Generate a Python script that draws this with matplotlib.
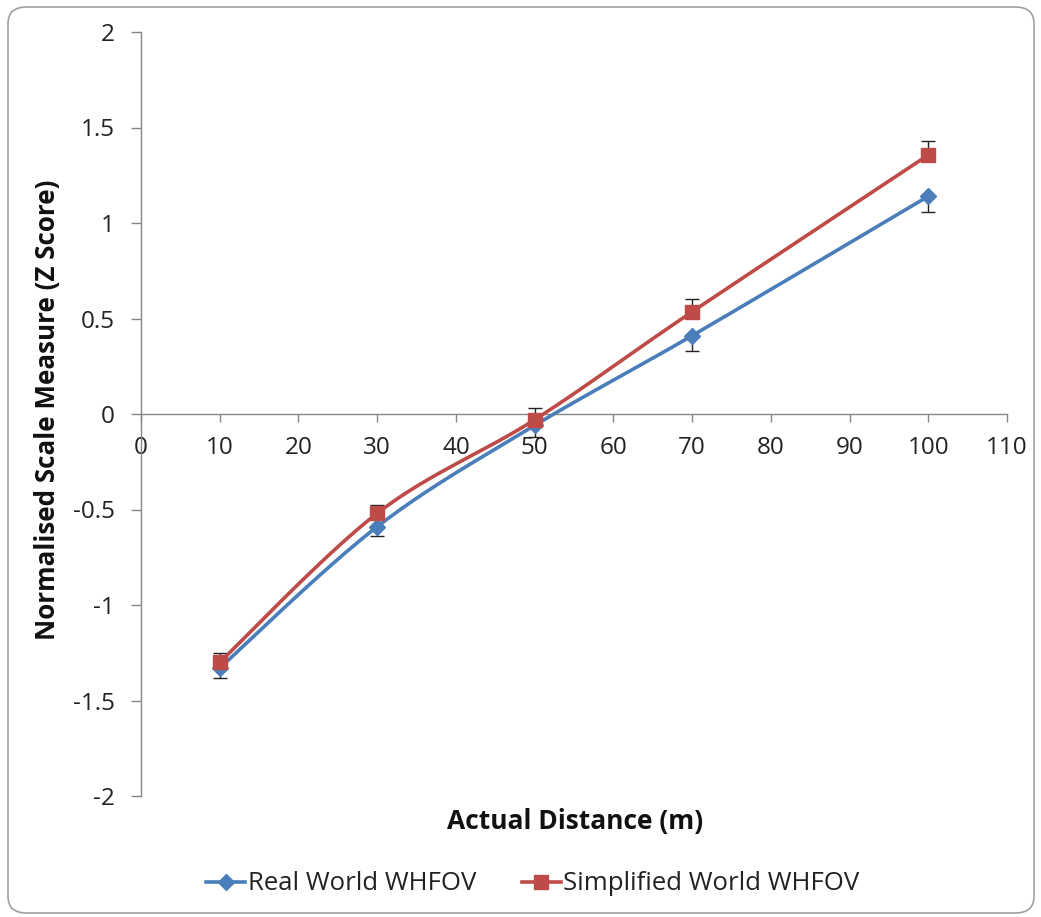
import numpy as np
import matplotlib
matplotlib.use("Agg")
import matplotlib.pyplot as plt
from matplotlib.patches import FancyBboxPatch

# ---- data ----
distance = [10, 30, 50, 70, 100]
real_world = [-1.33, -0.59, -0.06, 0.41, 1.14]
real_err = [0.05, 0.05, 0.06, 0.08, 0.085]
simplified_world = [-1.30, -0.52, -0.03, 0.535, 1.356]
simp_err = [0.05, 0.045, 0.06, 0.065, 0.075]
x_ticks = [0, 10, 20, 30, 40, 50, 60, 70, 80, 90, 100, 110]
y_ticks = [-2, -1.5, -1, -0.5, 0, 0.5, 1, 1.5, 2]
series_names = ["Real World WHFOV", "Simplified World WHFOV"]

BLUE = "#4A7EBB"
RED = "#BE4B48"
FONT = ["Open Sans", "DejaVu Sans"]
plt.rcParams["font.family"] = FONT


def excel_smooth(xs, ys, n=40):
    xs = np.asarray(xs, float)
    ys = np.asarray(ys, float)
    P = np.column_stack([xs, ys])
    out = []
    m = len(P)
    for i in range(m - 1):
        p0 = P[i - 1] if i > 0 else P[i]
        p1 = P[i]
        p2 = P[i + 1]
        p3 = P[i + 2] if i + 2 < m else P[i + 1]
        c1 = p1 + (p2 - p0) / 6.0
        c2 = p2 - (p3 - p1) / 6.0
        t = np.linspace(0, 1, n)[:, None]
        seg = ((1 - t) ** 3) * p1 + 3 * ((1 - t) ** 2) * t * c1 + 3 * (1 - t) * t ** 2 * c2 + t ** 3 * p2
        out.append(seg if i == 0 else seg[1:])
    pts = np.vstack(out)
    return pts[:, 0], pts[:, 1]


W, H = 1041, 917
fig = plt.figure(figsize=(W / 100, H / 100), dpi=100)

# rounded chart border
border = FancyBboxPatch((8 / W, 4 / H), (1026 / W), (906 / H),
                        boxstyle="round,pad=0,rounding_size=0.018",
                        transform=fig.transFigure, facecolor="none",
                        edgecolor="#A0A0A0", linewidth=1.2, zorder=-1)
fig.patches.append(border)

ax = fig.add_axes([141 / W, 1 - 796 / H, 866 / W, 764 / H])
ax.set_facecolor("none")
ax.set_xlim(0, 110)
ax.set_ylim(-2, 2)

for s in ["top", "right"]:
    ax.spines[s].set_visible(False)
ax.spines["bottom"].set_position(("data", 0))
ax.spines["bottom"].set_color("#868686")
ax.spines["left"].set_color("#868686")
ax.spines["bottom"].set_linewidth(1.0)
ax.spines["left"].set_linewidth(1.0)

ax.set_xticks(x_ticks)
ax.set_yticks(y_ticks)
ax.set_xticklabels([str(v) for v in x_ticks])
ax.set_yticklabels([f"{v:g}" for v in y_ticks])
ax.tick_params(axis="x", direction="out", length=6, width=1, color="#868686",
               labelsize=17.5, pad=10, labelcolor="#222222")
ax.tick_params(axis="y", direction="out", length=7, width=1, color="#868686",
               labelsize=17.5, pad=12, labelcolor="#222222")

# lines
bx, by = excel_smooth(distance, real_world)
rx, ry = excel_smooth(distance, simplified_world)
ax.plot(bx, by, color=BLUE, lw=2.6, zorder=3, solid_capstyle="round")
ax.plot(rx, ry, color=RED, lw=2.6, zorder=4, solid_capstyle="round")

# error bars (blue minus only, red plus only)
ax.errorbar(distance, real_world, yerr=[real_err, [0] * len(real_err)], fmt="none",
            ecolor="#222222", elinewidth=1, capsize=5, capthick=1, zorder=2)
ax.errorbar(distance, simplified_world, yerr=[[0] * len(simp_err), simp_err], fmt="none",
            ecolor="#222222", elinewidth=1, capsize=5, capthick=1, zorder=2)

ax.plot(distance, real_world, linestyle="none", marker="D", markersize=8,
        color=BLUE, markeredgecolor=BLUE, zorder=5)
ax.plot(distance, simplified_world, linestyle="none", marker="s", markersize=10,
        color=RED, markeredgecolor=RED, zorder=6)

# axis titles
fig.text(575 / W, 1 - 822 / H, "Actual Distance (m)", ha="center", va="center",
         fontsize=19, fontweight="bold", color="#111111")
fig.text(48 / W, 1 - 410 / H, "Normalised Scale Measure (Z Score)", ha="center",
         va="center", rotation=90, fontsize=18.7, fontweight="bold", color="#111111")

# legend
h1, = ax.plot([], [], color=BLUE, lw=2.6, marker="D", markersize=8)
h2, = ax.plot([], [], color=RED, lw=2.6, marker="s", markersize=10)
leg = fig.legend([h1, h2], series_names, loc="center", ncol=2,
                 bbox_to_anchor=(533 / W, 1 - 884 / H), frameon=False,
                 fontsize=18.5, handlelength=1.5, handletextpad=0.1,
                 columnspacing=1.8)
for t in leg.get_texts():
    t.set_color("#222222")

fig.savefig("out.png", dpi=100)
